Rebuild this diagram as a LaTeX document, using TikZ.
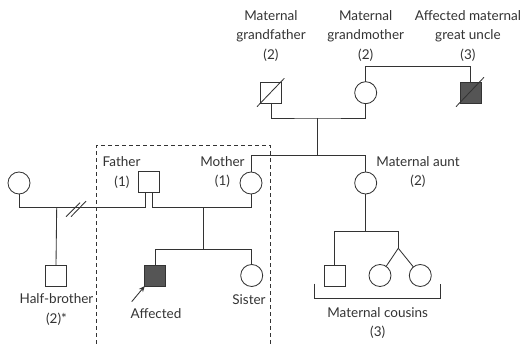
\documentclass[tikz,border=0pt]{standalone}
\usepackage{fontspec}
\setmainfont{Lato}
\usetikzlibrary{arrows.meta}
\definecolor{ink}{HTML}{333333}
\definecolor{aff}{HTML}{555555}
\tikzset{
  male/.style={draw=ink, line width=0.85pt, minimum size=21pt, inner sep=0pt, outer sep=0pt, rectangle},
  female/.style={draw=ink, line width=0.85pt, minimum size=22pt, inner sep=0pt, outer sep=0pt, circle},
  affected/.style={fill=aff},
  link/.style={draw=ink, line width=0.85pt},
  lbl/.style={text=ink, font=\fontsize{13.5}{19.5}\selectfont, inner sep=0pt, align=center},
  dead/.style={draw=ink, line width=0.85pt},
}
\begin{document}
\begin{tikzpicture}[x=1pt,y=-1pt]
\useasboundingbox (0,0) rectangle (523,344);
% people
\node[male] (gf) at (271,92.5) {};
\node[female] (gm) at (365.7,92.7) {};
\node[male,affected] (gu) at (470.5,92.5) {};
\node[female] (lw) at (19,183) {};
\node[male] (fa) at (149,182) {};
\node[female] (mo) at (251,183) {};
\node[female] (au) at (365.7,183) {};
\node[male] (hb) at (56,275.5) {};
\node[male,affected] (af) at (155.3,275.5) {};
\node[female] (si) at (251.7,275.5) {};
\node[male] (c1) at (334.5,275.5) {};
\node[female] (c2) at (380,275.5) {};
\node[female] (c3) at (420.3,275.5) {};
% deceased slashes
\draw[dead] (257,106.7) -- (284.3,78.3);
\draw[dead] (456,106.7) -- (484,77.3);
% junction coordinates
\coordinate (gp) at (317,118);
\coordinate (gs) at (317,155.7);
\coordinate (lm) at (56.7,207.7);
\coordinate (fm) at (203.3,207.7);
\coordinate (fs) at (203.3,249.7);
\coordinate (as) at (365.7,231.5);
\coordinate (tw) at (398.3,231.5);
\coordinate (tj) at (398.3,248.3);
\coordinate (ds) at (76,207.7);
% connectors
\draw[link] (gm.north) -- ++(0,-14.8) -| (gu.north);
\draw[link] (gf.south) |- (gp) -| (gm.south);
\draw[link] (gp) -- (gs);
\draw[link] (mo.north) |- (gs) -| (au.north);
\draw[link] (lw.south) |- ([xshift=-3.8pt]fa.south |- lm) -- ([xshift=-3.8pt]fa.south);
\draw[link] (hb.north) -- (lm);
\draw[link] ([xshift=-10pt,yshift=-9pt]ds) -- ([xshift=4pt,yshift=5pt]ds);
\draw[link] ([xshift=-5pt,yshift=-9pt]ds) -- ([xshift=10pt,yshift=6.5pt]ds);
\draw[link] ([xshift=3.8pt]fa.south) |- (fm) -| (mo.south);
\draw[link] (fm) -- (fs);
\draw[link] (af.north) |- (fs) -| (si.north);
\draw[link] (au.south) -- (as);
\draw[link] (c1.north) |- (as) -- (tw) -- (tj);
\draw[link] (tj) -- (c2);
\draw[link] (tj) -- (c3);
% bracket
\coordinate (b1) at (314.3,283.7);
\coordinate (b2) at (440,283.7);
\draw[link] (b1) -- ++(0,15) -| (b2);
% dashed box
\coordinate (d1) at (96.7,344);
\coordinate (d2) at (270.7,344);
\draw[link, dashed, dash pattern=on 4pt off 3pt] (d1) |- (183.7,145.7) -| (d2);
% arrow
\coordinate (ar) at (131.7,301.7);
\draw[link, -{Stealth[length=6pt,width=5pt]}] (ar) -- (af.south west);
% labels
\node[lbl] (tgf) at (271,36) {Maternal\\grandfather\\(2)};
\node[lbl] (tgm) at (365.7,36) {Maternal\\grandmother\\(2)};
\node[lbl] (tgu) at (468,36) {Affected maternal\\great uncle\\(3)};
\node[lbl, anchor=west] (tfa) at (102.5,162) {Father};
\node[lbl] (tfa1) at (122,182) {(1)};
\node[lbl] (tmo) at (222.5,172) {Mother\\(1)};
\node[lbl] (tau) at (418,172) {Maternal aunt\\(2)};
\node[lbl] (thb) at (56.5,309.5) {Half-brother\\(2)*};
\node[lbl] (taf) at (156,313.7) {Affected};
\node[lbl] (tsi) at (249,300) {Sister};
\node[lbl] (tcu) at (377.7,323) {Maternal cousins\\(3)};
\end{tikzpicture}
\end{document}
